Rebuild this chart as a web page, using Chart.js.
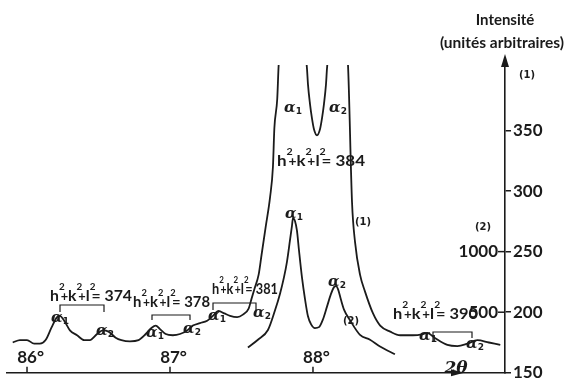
<!DOCTYPE html>
<html>
<head>
<meta charset="utf-8">
<script src="https://cdn.jsdelivr.net/npm/chart.js@4.4.0/dist/chart.umd.min.js"></script>
<style>
  html, body { margin: 0; padding: 0; background: #fff; }
  canvas { display: block; }
</style>
</head>
<body>
<canvas id="chart" width="583" height="385"></canvas>
<script>
// curve (1): 2θ in degrees, intensity on the 150-350 scale
const curve1Deg = [
  85.90, 85.95, 86.00, 86.05, 86.09, 86.13, 86.17, 86.21, 86.23, 86.26,
  86.30, 86.35, 86.40, 86.44, 86.49, 86.53, 86.57, 86.62, 86.66, 86.72,
  86.78, 86.83, 86.87, 86.90, 86.93, 86.97, 87.02, 87.07, 87.12, 87.16,
  87.21, 87.26, 87.30, 87.34, 87.38, 87.42, 87.47, 87.51, 87.55, 87.57,
  87.59, 87.62, 87.64, 87.67, 87.70, 87.72, 87.73, 87.75, 87.76, 87.85,
  87.958, 87.965, 87.979, 87.993, 88.007, 88.028, 88.049, 88.063, 88.077, 88.091,
  88.098, 88.17, 88.245, 88.273, 88.294, 88.329, 88.364, 88.42, 88.47, 88.54,
  88.61, 88.70, 88.77, 88.80, 88.85, 88.94, 89.01, 89.08, 89.15, 89.23,
  89.31
];
const curve1Val = [
  175, 177, 177, 174, 174, 177, 187, 196, 197, 193,
  185, 181, 177, 177, 182, 185, 184, 179, 177, 176,
  177, 182, 187, 189, 186, 182, 181, 182, 185, 189,
  191, 193, 197, 201, 199, 197, 196, 198, 203, 211,
  219, 231, 247, 271, 295, 320, 352, 376, 404, 520,
  401, 388, 372, 360, 351, 346, 351, 360, 372, 388,
  401, 480, 404, 291, 258, 231, 217, 199, 189, 184,
  181, 181, 182, 183, 179, 173, 172, 174, 177, 175,
  173
];

// curve (2): same 2θ, intensity on the 500-1000 scale
const curve2Deg = [
  87.545, 87.615, 87.685, 87.734, 87.769, 87.797, 87.818, 87.839, 87.853, 87.860,
  87.874, 87.888, 87.902, 87.923, 87.944, 87.965, 87.986, 88.014, 88.042, 88.070,
  88.098, 88.126, 88.147, 88.161, 88.175, 88.196, 88.217, 88.259, 88.329, 88.399,
  88.469, 88.573
];
const curve2Val = [
  209, 273, 353, 514, 651, 787, 916, 1092, 1213, 1277,
  1253, 1173, 1012, 787, 610, 466, 402, 369, 377, 442,
  546, 651, 707, 715, 691, 602, 522, 434, 313, 273,
  217, 153
];

const xTicks = [86, 87, 88];
const yTicks1 = [150, 200, 250, 300, 350];
const yTicks2 = [500, 1000];

const ink = "#1b1b1b";
const numFont = "bold 17px Lato";

function toPoints(xs, ys) {
  return xs.map((v, i) => ({ x: v, y: ys[i] }));
}

function drawAlpha(ctx, cx, cy, sub) {
  const aFont = "italic bold 15px 'DejaVu Serif'";
  const sFont = "bold 9px 'DejaVu Sans'";
  ctx.font = aFont;
  const w = ctx.measureText("α").width;
  ctx.font = sFont;
  const sw = ctx.measureText(sub).width;
  const x0 = cx - (w + sw) / 2;
  ctx.textAlign = "left";
  ctx.textBaseline = "middle";
  ctx.font = aFont;
  ctx.fillText("α", x0, cy);
  ctx.font = sFont;
  ctx.fillText(sub, x0 + w, cy + 4);
}

// h²+k²+l² = n, squeezed to the width it has in the figure
function drawHkl(ctx, x, base, n, width) {
  const parts = [
    ["h", "bold 16px Lato", 0, 1], ["2", "bold 10px Lato", -11, 0.3], ["+", "bold 13px Lato", 0, 1],
    ["k", "bold 16px Lato", 0, 1], ["2", "bold 10px Lato", -11, 0.3], ["+", "bold 13px Lato", 0, 1],
    ["l", "bold 16px Lato", 0, 1], ["2", "bold 10px Lato", -11, 0.3], ["= " + n, "bold 16px Lato", 0, 1]
  ];
  let total = 0;
  parts.forEach(p => { ctx.font = p[1]; total += ctx.measureText(p[0]).width * p[3]; });
  ctx.save();
  ctx.translate(x, base);
  ctx.scale(width / total, 1);
  ctx.textAlign = "left";
  ctx.textBaseline = "alphabetic";
  let cx = 0;
  parts.forEach(p => {
    ctx.font = p[1];
    ctx.fillText(p[0], cx, p[2]);
    cx += ctx.measureText(p[0]).width * p[3];
  });
  ctx.restore();
}

function bracket(ctx, x1, y1, x2, y2, top) {
  ctx.beginPath();
  ctx.moveTo(x1, y1);
  ctx.lineTo(x1, top);
  ctx.lineTo(x2, top);
  ctx.lineTo(x2, y2);
  ctx.stroke();
}

const annotate = {
  id: "annotate",
  afterDraw(chart) {
    const { ctx, chartArea: a, scales: { x, y2 } } = chart;
    ctx.save();
    ctx.fillStyle = ink;
    ctx.strokeStyle = ink;
    ctx.lineWidth = 1.5;

    // arrow on the intensity axis
    ctx.beginPath();
    ctx.moveTo(a.right, a.top);
    ctx.lineTo(a.right, 60);
    ctx.stroke();
    ctx.beginPath();
    ctx.moveTo(a.right, 54);
    ctx.lineTo(a.right - 4, 67);
    ctx.lineTo(a.right + 4, 67);
    ctx.closePath();
    ctx.fill();

    // arrow on the 2θ axis
    ctx.beginPath();
    ctx.moveTo(464, a.bottom);
    ctx.lineTo(451, a.bottom - 3.5);
    ctx.lineTo(451, a.bottom + 3.5);
    ctx.closePath();
    ctx.fill();

    // 2θ ticks and labels, drawn above the axis
    xTicks.forEach(v => {
      const px = x.getPixelForValue(v);
      ctx.beginPath();
      ctx.moveTo(px, a.bottom);
      ctx.lineTo(px, a.bottom - 6);
      ctx.stroke();
      ctx.font = numFont;
      ctx.textAlign = "left";
      ctx.textBaseline = "alphabetic";
      const w = ctx.measureText(String(v)).width;
      ctx.fillText(v + "°", px - w / 2, a.bottom - 10);
    });

    // left-hand scale for curve (2)
    yTicks2.forEach(v => {
      const py = y2.getPixelForValue(v);
      ctx.beginPath();
      ctx.moveTo(a.right - 7, py);
      ctx.lineTo(a.right, py);
      ctx.stroke();
      ctx.font = numFont;
      ctx.textAlign = "right";
      ctx.textBaseline = "middle";
      ctx.fillText(String(v), a.right - 7, py);
    });

    // titles
    ctx.textAlign = "center";
    ctx.textBaseline = "middle";
    ctx.font = "bold 15px Lato";
    ctx.fillText("Intensité", 505, 20);
    ctx.font = "bold 15.5px Lato";
    ctx.fillText("(unités arbitraires)", 502, 43);
    ctx.font = "italic bold 17px 'DejaVu Serif'";
    ctx.fillText("2θ", 456, 369);

    ctx.font = "bold 10px 'DejaVu Sans'";
    ctx.fillText("(1)", 527, 75);
    ctx.fillText("(2)", 483, 227);
    ctx.fillText("(1)", 363, 222);
    ctx.fillText("(2)", 351, 321);

    // reflections
    drawHkl(ctx, 50, 301, 374, 82);
    drawHkl(ctx, 133, 307, 378, 77);
    drawHkl(ctx, 212, 294, 381, 66);
    drawHkl(ctx, 277, 166, 384, 88);
    drawHkl(ctx, 393, 319, 390, 85);

    ctx.lineWidth = 1.2;
    bracket(ctx, 60, 312, 104, 312, 305);
    bracket(ctx, 152, 320, 190, 320, 315);
    bracket(ctx, 213, 310, 256, 310, 303);
    bracket(ctx, 433, 342, 472, 338, 332);

    drawAlpha(ctx, 60, 318, "1");
    drawAlpha(ctx, 105, 331, "2");
    drawAlpha(ctx, 155, 333, "1");
    drawAlpha(ctx, 192, 329, "2");
    drawAlpha(ctx, 217, 316, "1");
    drawAlpha(ctx, 262, 313, "2");
    drawAlpha(ctx, 293, 108, "1");
    drawAlpha(ctx, 338, 108, "2");
    drawAlpha(ctx, 294, 214, "1");
    drawAlpha(ctx, 337, 282, "2");
    drawAlpha(ctx, 428, 336, "1");
    drawAlpha(ctx, 475, 344, "2");

    ctx.restore();
  }
};

const lineStyle = {
  borderColor: ink,
  borderWidth: 1.8,
  pointRadius: 0,
  fill: false,
  cubicInterpolationMode: "monotone"
};

new Chart(document.getElementById("chart"), {
  type: "line",
  data: {
    datasets: [
      Object.assign({ label: "(1)", data: toPoints(curve1Deg, curve1Val), yAxisID: "y" }, lineStyle),
      Object.assign({ label: "(2)", data: toPoints(curve2Deg, curve2Val), yAxisID: "y2" }, lineStyle)
    ]
  },
  options: {
    responsive: false,
    animation: false,
    layout: { padding: { left: 7, top: 65, right: 0, bottom: 0 } },
    plugins: { legend: { display: false }, tooltip: { enabled: false } },
    scales: {
      x: {
        type: "linear",
        min: 85.86,
        max: 89.343,
        grid: { display: false },
        border: { color: ink, width: 1.6 },
        ticks: { display: false },
        afterFit: s => { s.height = 4; }
      },
      y: {
        position: "right",
        min: 150,
        max: 404,
        afterBuildTicks: s => { s.ticks = yTicks1.map(v => ({ value: v })); },
        grid: { drawOnChartArea: false, tickLength: 6, color: ink, lineWidth: 1.5 },
        border: { color: ink, width: 1.6 },
        ticks: { padding: 2, color: ink, font: { family: "Lato", size: 17, weight: "bold" } },
        afterFit: s => { s.width = 78; }
      },
      y2: {
        display: false,
        min: 0,
        max: 2540
      }
    }
  },
  plugins: [annotate]
});
</script>
</body>
</html>
